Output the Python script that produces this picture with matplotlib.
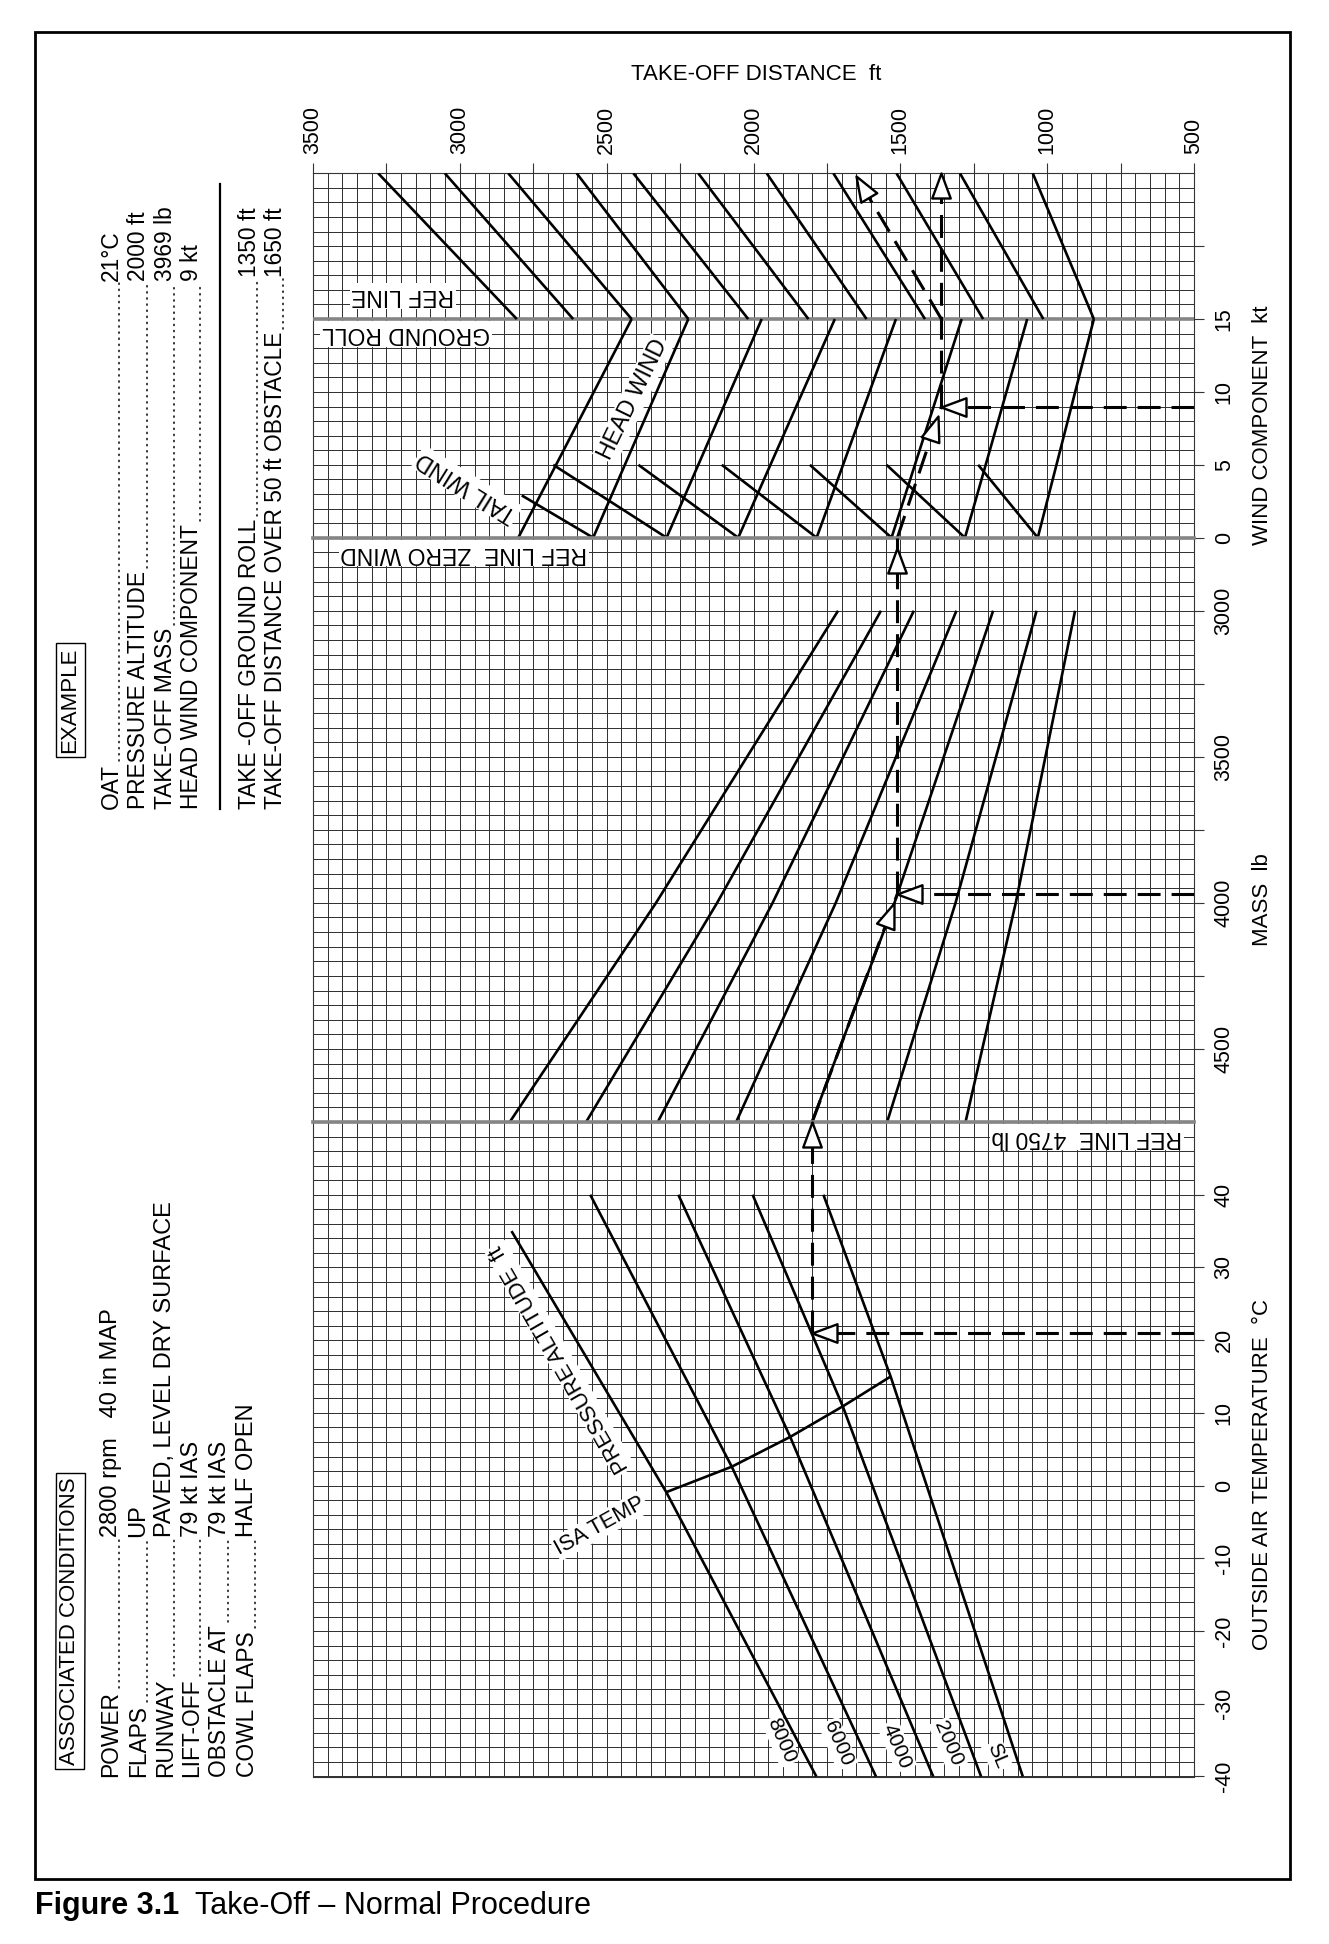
import numpy as np
import matplotlib
matplotlib.use("Agg")
import matplotlib.pyplot as plt
from matplotlib.markers import MarkerStyle
from matplotlib.path import Path
from matplotlib.transforms import Affine2D
from matplotlib.patches import Rectangle

plt.rcParams['font.family'] = ['Liberation Sans', 'DejaVu Sans']
plt.rcParams['ytick.alignment'] = 'center'

# ----------------------------------------------------------------- data
dist_ticks = [3500, 3250, 3000, 2750, 2500, 2250, 2000, 1750, 1500, 1250, 1000, 750, 500]
dist_labelled = [3500, 3000, 2500, 2000, 1500, 1000, 500]
wind_ticks = [0, 5, 10, 15, 20]
wind_tick_labels = ['0', '5', '10', '15', '']
mass_ticks = [3000, 3250, 3500, 3750, 4000, 4250, 4500]
mass_tick_labels = ['3000', '', '3500', '', '4000', '', '4500']
temp_ticks = [-40, -30, -20, -10, 0, 10, 20, 30, 40]
temp_tick_labels = ['-40', '-30', '-20', '-10', '0', '10', '20', '30', '40']

# OAT panel: distance at reference mass vs OAT for each pressure altitude
alt_labels = ['8000', '6000', '4000', '2000', 'SL']
alt_temp = [[35, -0.9, -40], [40, 2.6, -40], [40, 6.7, -40], [40, 10.9, -40], [40, 15.0, -40]]
alt_dist = [[2824, 2297, 1786], [2556, 2074, 1583], [2256, 1875, 1388],
            [2003, 1696, 1225], [1762, 1533, 1083]]
isa_temp = [-0.9, 2.6, 6.7, 10.9, 15.0]
isa_dist = [2297, 2074, 1875, 1696, 1533]

# mass panel guide lines
guide_mass = [3000, 4000, 4750]
guide_dist = [[1712, 2332, 2830], [1566, 2124, 2570], [1454, 1935, 2326], [1309, 1720, 2059],
              [1184, 1520, 1801], [1036, 1312, 1545], [905, 1107, 1278]]

# wind panel guide lines
head_dist_0 = [2801, 2546, 2296, 2052, 1785, 1530, 1280, 1032]
head_dist_15 = [2415, 2222, 1972, 1723, 1515, 1291, 1068, 841]
tail_dist_0 = [2546, 2296, 2052, 1785, 1530, 1280, 1032]
tail_wind_end = [2.9, 5, 5, 5, 5, 5, 5]
tail_dist_end = [2789, 2682, 2392, 2108, 1808, 1547, 1235]
# obstacle (ground roll -> 50 ft) guide lines
obst_dist_ref = [2806, 2614, 2415, 2222, 2018, 1813, 1615, 1416, 1218, 1013, 841]
obst_dist_top = [3278, 3051, 2835, 2602, 2409, 2188, 1955, 1728, 1513, 1297, 1049]
ref_wind = 15
top_wind = 25

# worked example
ex_oat = 21
ex_mass = 3969
ex_wind = 9
ex_dist_ref_mass = 1800
ex_dist_zero_wind = 1510
ex_ground_roll = 1360
ex_obstacle = 1650
ex_obstacle_y = 24.8

ex_labels = ["OAT", "PRESSURE ALTITUDE", "TAKE-OFF MASS", "HEAD WIND COMPONENT",
             "TAKE -OFF GROUND ROLL", "TAKE-OFF DISTANCE OVER 50 ft OBSTACLE"]
ex_values = ["21°C", "2000 ft", "3969 lb", "9 kt", "1350 ft", "1650 ft"]
cond_labels = ["POWER", "FLAPS", "RUNWAY", "LIFT-OFF", "OBSTACLE AT", "COWL FLAPS"]
cond_values = ["2800 rpm   40 in MAP", "UP", "PAVED, LEVEL DRY SURFACE",
               "79 kt IAS", "79 kt IAS", "HALF OPEN"]

# ----------------------------------------------------------------- layout
W, H = 1329, 1944
fig = plt.figure(figsize=(W / 100, H / 100), dpi=100, facecolor='white')


def box(x0, y0, x1, y1):
    return [x0 / W, 1 - y1 / H, (x1 - x0) / W, (y1 - y0) / H]


GX0, GX1 = 313, 1194
Y_TOP, Y_ZERO, Y_4750, Y_BOT = 173.3, 537.7, 1122.0, 1776.5

axW = fig.add_axes(box(GX0, Y_TOP, GX1, Y_ZERO))
axM = fig.add_axes(box(GX0, Y_ZERO, GX1, Y_4750))
axT = fig.add_axes(box(GX0, Y_4750, GX1, Y_BOT))

GRID_C = '#333333'
REF_C = '#858585'
LINE_KW = dict(color='black', lw=1.9, solid_capstyle='butt', solid_joinstyle='round', zorder=4)
DASH_KW = dict(color='black', lw=2.2, dashes=(7.5, 3.6), zorder=5)
FS = 15.5

for ax, ylim, ystep in ((axW, (0, top_wind), 1), (axM, (4750, 2750), 50), (axT, (-40, 50), 2)):
    ax.set_facecolor('none')
    ax.set_xlim(3500, 500)
    ax.set_ylim(*ylim)
    lo, hi = min(ylim), max(ylim)
    ax.set_xticks(np.arange(500, 3501, 50), minor=True)
    ax.set_yticks(np.arange(lo, hi + ystep / 2, ystep), minor=True)
    ax.grid(which='both', color=GRID_C, lw=0.72)
    ax.set_axisbelow(True)
    ax.tick_params(which='minor', length=0)
    for s in ax.spines.values():
        s.set_color(GRID_C)
        s.set_linewidth(0.8)
    ax.yaxis.tick_right()
    ax.tick_params(axis='y', which='major', right=True, left=False, labelright=True,
                   labelleft=False, direction='out', length=7.2, width=0.8, color=GRID_C,
                   labelsize=FS, pad=7, labelrotation=90)

# x ticks: only on top of the wind panel
axW.xaxis.tick_top()
axW.set_xticks(dist_ticks, labels=[str(v) if v in dist_labelled else '' for v in dist_ticks])
axW.tick_params(axis='x', which='major', top=True, bottom=False, labeltop=True,
                labelbottom=False, direction='out', length=7.2, width=0.8, color=GRID_C,
                labelsize=FS, pad=7, labelrotation=90)
for ax in (axM, axT):
    ax.set_xticks([])
    ax.tick_params(axis='x', which='both', length=0, labelbottom=False, labeltop=False)

axW.set_yticks(wind_ticks, labels=wind_tick_labels)
axM.set_yticks(mass_ticks, labels=mass_tick_labels)
axT.set_yticks(temp_ticks, labels=temp_tick_labels)

# axis titles
axW.xaxis.set_label_position('top')
axW.set_xlabel('TAKE-OFF DISTANCE  ft', fontsize=16)
axW.xaxis.set_label_coords((756 - GX0) / (GX1 - GX0), (Y_ZERO - 74.6) / (Y_ZERO - Y_TOP))
axW.xaxis.label.set_va('center')
for ax, lab, yc, y0, y1 in ((axW, 'WIND COMPONENT  kt', 425, Y_TOP, Y_ZERO),
                            (axM, 'MASS  lb', 900, Y_ZERO, Y_4750),
                            (axT, 'OUTSIDE AIR TEMPERATURE  °C', 1475, Y_4750, Y_BOT)):
    ax.yaxis.set_label_position('right')
    ax.set_ylabel(lab, fontsize=16, rotation=90)
    ax.yaxis.set_label_coords((1262 - GX0) / (GX1 - GX0), (y1 - yc) / (y1 - y0))
    ax.yaxis.label.set_va('center')
    ax.yaxis.label.set_ha('center')

# reference lines
axW.axhline(ref_wind, color=REF_C, lw=2.6, zorder=3)
axM.axhline(2750, color=REF_C, lw=2.6, zorder=3, clip_on=False)
axT.axhline(50, color=REF_C, lw=2.6, zorder=3, clip_on=False)

# ----------------------------------------------------------------- curves
for t, d in zip(alt_temp, alt_dist):
    axT.plot(d, t, **LINE_KW)
axT.plot(isa_dist, isa_temp, **LINE_KW)

for d in guide_dist:
    axM.plot(d, guide_mass, **LINE_KW)

for d0, d15 in zip(head_dist_0, head_dist_15):
    axW.plot([d0, d15], [0, ref_wind], **LINE_KW)
for d0, we, de in zip(tail_dist_0, tail_wind_end, tail_dist_end):
    axW.plot([d0, de], [0, we], **LINE_KW)
for dr, dt in zip(obst_dist_ref, obst_dist_top):
    axW.plot([dr, dt], [ref_wind, top_wind], **LINE_KW)

# ----------------------------------------------------------------- example path
TRI = Path([(0, 0), (-1, 0.37), (-1, -0.37), (0, 0)],
           [Path.MOVETO, Path.LINETO, Path.LINETO, Path.CLOSEPOLY])


def arrowhead(ax, p0, p1, t=1.0):
    x0, y0 = p0
    x1, y1 = p1
    xt, yt = x0 + (x1 - x0) * t, y0 + (y1 - y0) * t
    a = ax.transData.transform((x0, y0))
    b = ax.transData.transform((x1, y1))
    ang = np.degrees(np.arctan2(b[1] - a[1], b[0] - a[0]))
    m = MarkerStyle(TRI, transform=Affine2D().rotate_deg(ang))
    ax.plot([xt], [yt], marker=m, ms=36, mfc='white', mec='black', mew=1.7,
            ls='none', zorder=7, clip_on=False)


def dashed(ax, p0, p1):
    ax.plot([p0[0], p1[0]], [p0[1], p1[1]], **DASH_KW)


# OAT panel
p_a, p_b = (500, ex_oat), (ex_dist_ref_mass, ex_oat)
dashed(axT, p_a, p_b); arrowhead(axT, p_a, p_b)
p_c = (ex_dist_ref_mass, 50)
dashed(axT, p_b, p_c); arrowhead(axT, p_b, p_c)
# mass panel
p_d, p_e = (ex_dist_ref_mass, 4750), (ex_dist_zero_wind, ex_mass)
dashed(axM, p_d, p_e); arrowhead(axM, p_d, p_e, 0.96)
p_f = (500, ex_mass)
dashed(axM, p_f, p_e); arrowhead(axM, p_f, p_e)
p_g = (ex_dist_zero_wind, 2750)
dashed(axM, p_e, p_g); arrowhead(axM, p_e, p_g, 0.97)
# wind panel
p_h, p_i = (ex_dist_zero_wind, 0), (ex_ground_roll, ex_wind)
dashed(axW, p_h, p_i); arrowhead(axW, p_h, p_i, 0.93)
p_j = (500, ex_wind)
dashed(axW, p_j, p_i); arrowhead(axW, p_j, p_i)
p_k = (ex_ground_roll, top_wind)
dashed(axW, p_i, p_k); arrowhead(axW, p_i, p_k)
p_l, p_m = (ex_ground_roll, ref_wind), (ex_obstacle, ex_obstacle_y)
dashed(axW, p_l, p_m); arrowhead(axW, p_l, p_m)

# ----------------------------------------------------------------- chart labels
LBL = dict(fontsize=16.5, ha='center', va='center', zorder=3.5,
           bbox=dict(fc='white', ec='none', pad=1.2))
axW.text(3194, 16.6, 'REF LINE', rotation=180, **LBL)
axW.text(3183, 14.0, 'GROUND ROLL', rotation=180, **LBL)
axM.text(2986, 2803, 'REF LINE  ZERO WIND', rotation=180, **LBL)
axT.text(864, 47.9, 'REF LINE  4750 lb', rotation=180, **LBL)
axW.text(2410, 9.5, 'HEAD WIND', rotation=64, **LBL)
axW.text(2976, 3.5, 'TAIL WIND', rotation=148, **LBL)
axT.text(2659, 17.4, 'PRESSURE ALTITUDE  ft', rotation=120, **dict(LBL, fontsize=16))
axT.text(2523, -5.5, 'ISA TEMP', rotation=29, **dict(LBL, fontsize=15.7))
alt_lab_pos = [(1906, -35.1), (1712, -35.5), (1511, -35.8), (1338, -35.5), (1171, -37.2)]
for lab, (xd, yd) in zip(alt_labels, alt_lab_pos):
    axT.text(xd, yd, lab, rotation=-67, **dict(LBL, fontsize=15))

# ----------------------------------------------------------------- page text
ov = fig.add_axes([0, 0, 1, 1])
ov.set_xlim(0, W)
ov.set_ylim(H, 0)
ov.axis('off')
ov.patch.set_visible(False)

ov.add_patch(Rectangle((35, 32), 1290 - 35, 1879 - 32, fill=False, ec='black', lw=2.0))

TXT = dict(fontsize=16.4, rotation=90, ha='center', va='bottom')
BOXED = dict(fontsize=16, rotation=90, ha='center', va='center',
             bbox=dict(boxstyle='square,pad=0.18', fc='white', ec='black', lw=1.0))
ov.text(70, 700, 'EXAMPLE', **BOXED)
ov.text(70, 1621, 'ASSOCIATED CONDITIONS', **BOXED)

ex_row_x = [111, 138.5, 165.5, 192, 249, 275]
ex_val_y = [281, 281, 281, 281, 277, 277]
cond_row_x = [111, 138.5, 165.5, 192, 219.5, 247]

pairs = []
for lab, val, x, yv in zip(ex_labels, ex_values, ex_row_x, ex_val_y):
    a = ov.text(x, 809, lab, **TXT)
    b = ov.text(x, yv, val, **TXT)
    pairs.append((a, b, x))
for lab, val, x in zip(cond_labels, cond_values, cond_row_x):
    a = ov.text(x, 1777, lab, **TXT)
    b = ov.text(x, 1537, val, **dict(TXT, fontsize=17))
    pairs.append((a, b, x))

ov.plot([220, 220], [184, 809], color='black', lw=1.6)

ov.text(35, 1906, 'Figure 3.1', fontsize=22, fontweight='bold', ha='left', va='center')
ov.text(195, 1906, 'Take-Off \u2013 Normal Procedure', fontsize=22, ha='left', va='center')

# dotted leaders between labels and values
fig.canvas.draw()
r = fig.canvas.get_renderer()
for a, b, x in pairs:
    ba = a.get_window_extent(r)
    bb = b.get_window_extent(r)
    y_start = H - (ba.y1 + 3)
    y_end = H - (bb.y0 - 2)
    if y_start > y_end:
        ov.plot([x + 8, x + 8], [y_start, y_end], color='black', lw=1.1,
                ls=(0, (0.8, 3.2)), dash_capstyle='round')

fig.savefig('out.png', dpi=100, facecolor='white')
